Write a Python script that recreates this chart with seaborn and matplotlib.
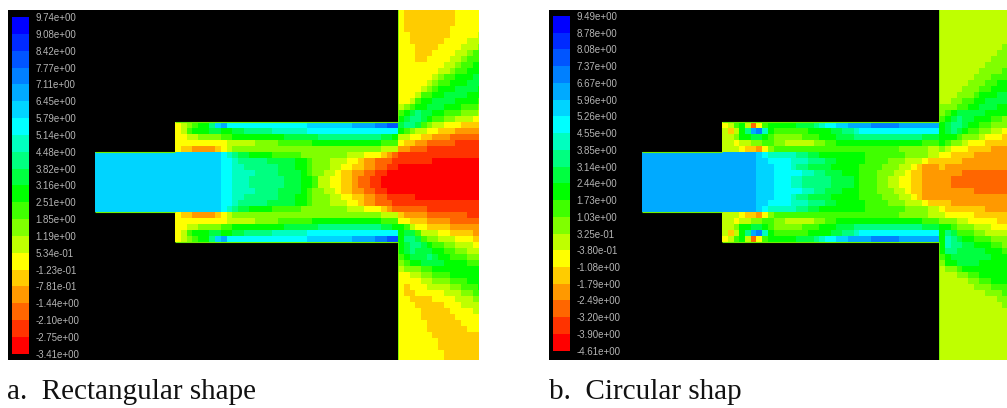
import numpy as np
import matplotlib
matplotlib.use('Agg')
import matplotlib.pyplot as plt
from matplotlib.colors import ListedColormap
import seaborn as sns

# contour level colours, blue (highest) to red (lowest)
level_colors = ['#0000ff', '#002aff', '#0055ff', '#0080ff', '#00aaff', '#00d4ff', '#00ffff',
                '#00ffbf', '#00ff80', '#00ff40', '#00ff00', '#40ff00', '#80ff00', '#bfff00',
                '#ffff00', '#ffcc00', '#ff9900', '#ff6600', '#ff3300', '#ff0000']
level_chars = 'abcdefghijklmnopqrst'

labels_a = ['9.74e+00', '9.08e+00', '8.42e+00', '7.77e+00', '7.11e+00', '6.45e+00', '5.79e+00',
            '5.14e+00', '4.48e+00', '3.82e+00', '3.16e+00', '2.51e+00', '1.85e+00', '1.19e+00',
            '5.34e-01', '-1.23e-01', '-7.81e-01', '-1.44e+00', '-2.10e+00', '-2.75e+00', '-3.41e+00']
labels_b = ['9.49e+00', '8.78e+00', '8.08e+00', '7.37e+00', '6.67e+00', '5.96e+00', '5.26e+00',
            '4.55e+00', '3.85e+00', '3.14e+00', '2.44e+00', '1.73e+00', '1.03e+00', '3.25e-01',
            '-3.80e-01', '-1.08e+00', '-1.79e+00', '-2.49e+00', '-3.20e+00', '-3.90e+00', '-4.61e+00']

caption_a = 'a.  Rectangular shape'
caption_b = 'b.  Circular shap'

# contour levels, one letter per cell, '.' = outside the domain
pipe_a = [
    '..............onmlkkifeggggggggggggggffffffffeeeeddcc',
    '..............onlkkkjjkkjjiiiiihhhhhhgggggggggggggggg',
    '..............oonnmmmmllkkkkkkkkkjjjjjjiiiiiiiiiiijjk',
    '..............ooooooooonnnnnmmmmllllllkkkkkkkkkkkklll',
    '..............oppqqqqponmmmmmmmmmmmmmmmmmmmmmmmmmmnnn',
    'ffffffffffffffffffffffghijjkkkklllllmmmmmmmmnnnooopqr',
    'ffffffffffffffffffffffgghiiiiijjjjjkklmmmnnnoopqqrrrs',
    'ffffffffffffffffffffffgghhiiiiiijjjkklmmmnnooppqqrrss',
    'ffffffffffffffffffffffgghhhhiiiijjjjklmmnnoppqqrrsstt',
    'ffffffffffffffffffffffgghhhiiiiiijjjkklnnooppqrrssttt',
    'ffffffffffffffffffffffgghhhiiiiiijjjkklnnooppqrrssttt',
    'ffffffffffffffffffffffgghhhhiiiijjjjklmmnnoppqqrrsstt',
    'ffffffffffffffffffffffgghhiiiiiijjjkklmmmnnooppqqrrss',
    'ffffffffffffffffffffffgghiiiiijjjjjkklmmmnnnoopqqrrrs',
    'ffffffffffffffffffffffghijjkkkklllllmmmmmmmmnnnooopqr',
    '..............oppqqqqponmmmmmmmmmmmmmmmmmmmmmmmmmmnnn',
    '..............ooooooooonnnnnmmmmllllllkkkkkkkkkkkklll',
    '..............oonnmmmmllkkkkkkkkkjjjjjjiiiiiiiiiiijjk',
    '..............onlkkkjjkkjjiiiiihhhhhhgggggggggggggggg',
    '..............onmlkkifeggggggggggggggffffffffeeeeddcc',
]
outlet_a = [
    'opppppppppooooo', 'opppppppppooooo', 'opppppppppooooo', 'oppppppppoooooo',
    'oopppppppooooon', 'ooppppppoooonnn', 'oooppppoooonnnm', 'ooopppoooonnmll',
    'oooppoooonnmlll', 'oooooooonnmllkk', 'ooooooonnmllkkk', 'oooooonmllkkkjj',
    'ooooonmllkkkjjj', 'oooonmlkkkjjjjk', 'ooonllkkjjjjkkk', 'oonlkkjjjjkkkkl',
    'nmlkkjjjkkklllm', 'lkjijjkklllmmmn', 'kjiijkllmmnnnoo', 'jiijlmnnooopppp',
    'klmnnoopppqqqqq', 'nnooppqqqrrrrrr', 'oppqqrrrrrsssss', 'qqrrrssssssssss',
    'sssssssssssssss', 'ssssssttttttttt', 'ttttttttttttttt', 'ttttttttttttttt',
    'ttttttttttttttt', 'ttttttttttttttt', 'ttttttttttttttt', 'ssstttttttttttt',
    'sssssssssssssss', 'rrrrrssssssssss', 'pqqqqrrrrrrrsss', 'oopppqqqqrrrrrr',
    'klnooppppqqqqqq', 'kjjlnnnooppppqq', 'kiijlmmnnnooopp', 'kjiijkllmmnnnoo',
    'kjijjjkkllmmnnn', 'lkjjjijkklllmmm', 'mlkkjjjjkkkklll', 'nmmmllkkkkkkkkk',
    'oonnmmlllkkkkkk', 'oooonnmmmlllkkk', 'opooonnnnmmlllk', 'oppooooonnnmmll',
    'ooppppoooonnnmm', 'ooopppppooonnnn', 'oooopppppoooonn', 'ooooppppppooooo',
    'oooooppppppoooo', 'ooooopppppppooo', 'ooooooppppppppp', 'ooooooopppppppp',
    'ooooooopppppppp', 'ooooooooppppppp', 'ooooooooppppppp',
]

pipe_b = [
    '..............onlknrolkkkkkjjjihggffeeeedddddeeeeeee',
    '..............npnkiedhkllllllkkkkjjiihgggggggggggggg',
    '..............nnmkkjjklmmmmmlllkkkjjjiiiiiiiiiiiijjj',
    '..............nnonnmmllmmnnnnnmmllkkkkkkkkkkkkkkklll',
    '..............nnnoppqomllllllllllllllllllllllmmmmmnn',
    'eeeeeeeeeeeeeeeeeeeefghhhhhiijjkkkkkkkklllllllmmmmnn',
    'eeeeeeeeeeeeeeeeeeeeffgggghhhiiijjkkkkkllllmmmnnnopp',
    'eeeeeeeeeeeeeeeeeeeefffggghiijjjjkkkkkllllmmmnnopqqq',
    'eeeeeeeeeeeeeeeeeeeefffggggghhiijjjkkklllmmmnnoppqqq',
    'eeeeeeeeeeeeeeeeeeeefffggghhiiiiijjjjklllmmnnooppqqq',
    'eeeeeeeeeeeeeeeeeeeefffggghhiiiiijjjjklllmmnnooppqqq',
    'eeeeeeeeeeeeeeeeeeeefffggggghhiijjjkkklllmmmnnoppqqq',
    'eeeeeeeeeeeeeeeeeeeefffggghiijjjjkkkkkllllmmmnnopqqq',
    'eeeeeeeeeeeeeeeeeeeeffgggghhhiiijjkkkkkllllmmmnnnopp',
    'eeeeeeeeeeeeeeeeeeeefghhhhhiijjkkkkkkkklllllllmmmmnn',
    '..............nnnoppqomllllllllllllllllllllllmmmmmnn',
    '..............nnonnmmllmmnnnnnmmllkkkkkkkkkkkkkkklll',
    '..............nnmkkjjklmmmmmlllkkkjjjiiiiiiiiiiiijjj',
    '..............npnkiedhkllllllkkkkjjiihgggggggggggggg',
    '..............onlknrolkkkkkjjjihggffeeeedddddeeeeeee',
]
outlet_b = [
    'nnnnnnnnnnnn', 'nnnnnnnnnnnn', 'nnnnnnnnnnnn', 'nnnnnnnnnnnn', 'nnnnnnnnnnnn', 'nnnnnnnnnnnn',
    'nnnnnnnnnnnm', 'nnnnnnnnnnmm', 'nnnnnnnnnmmm', 'nnnnnnnnmmmm', 'nnnnnnnmmmml', 'nnnnnnmmmlll',
    'nnnnnmmmllkk', 'nnnnmmmllkkk', 'nnnmmmlkkkjj', 'nnmmllkkjjjj', 'mmmllkkjjjkk', 'mlkjjjjjkkkk',
    'lkjijjkkkllm', 'kjiijkkllmmm', 'kjijkllmmnno', 'kkklmmmnooop', 'klmmnooopppp', 'mnoooppppqqq',
    'ooppppqqqqqq', 'ppppqqqqqqqq', 'pqqqqqqqqqqq', 'qqqqrrrrrrrr', 'qqrrrrrrrrrr', 'qqrrrrrrrrrr',
    'qqqqqqrrrrrr', 'qqqqqqqqqqqq', 'ppqqqqqqqqqq', 'opppppppqqqq', 'nooooopppppp', 'mmmnnooooopp',
    'kklmmmnnnooo', 'kijlllmmnnnn', 'khijkklllmmm', 'khiijjkkkllm', 'kiijjjjjkkkl', 'lkjjjjjjjkkk',
    'mkkjjjjkkkkk', 'nmmlkkkkkkkk', 'nnnmmllkkkkk', 'nnnnnmmllkkk', 'nnnnnnmmmlll', 'nnnnnnnnmmml',
    'nnnnnnnnnnmm', 'nnnnnnnnnnnm', 'nnnnnnnnnnnn', 'nnnnnnnnnnnn', 'nnnnnnnnnnnn', 'nnnnnnnnnnnn',
    'nnnnnnnnnnnn', 'nnnnnnnnnnnn', 'nnnnnnnnnnnn', 'nnnnnnnnnnnn', 'nnnnnnnnnnnn',
]

W, H = 1007, 408
PIPE_FIRST_ROW = 19
JET_FIRST_ROW = 24
JET_LAST_ROW = 34
PIPE_LAST_ROW = 39
PIPE_FIRST_COL = 14
WALL_COLOR = '#70f000'
cmap = ListedColormap(level_colors)


def build_field(pipe, outlet):
    # pipe rows sit left of the outlet rows, everything else stays black
    n_pipe = max(len(r) for r in pipe)
    n_out = max(len(r) for r in outlet)
    field = np.full((len(outlet), n_pipe + n_out), np.nan)
    for i, row in enumerate(outlet):
        for j, ch in enumerate(row):
            field[i, n_pipe + j] = level_chars.index(ch)
    for i, row in enumerate(pipe):
        for j, ch in enumerate(row):
            if ch != '.':
                field[PIPE_FIRST_ROW + i, j] = level_chars.index(ch)
    return field


def pixel_axes(x0, y0, x1, y1):
    return fig.add_axes([x0 / W, 1 - y1 / H, (x1 - x0) / W, (y1 - y0) / H])


def draw_panel(box, xlim, pipe, outlet, legend_box, labels, caption, caption_x):
    ax = pixel_axes(*box)
    ax.set_facecolor('black')
    sns.heatmap(build_field(pipe, outlet), ax=ax, cmap=cmap, vmin=-0.5, vmax=19.5,
                cbar=False, xticklabels=False, yticklabels=False)
    ax.set_xlim(*xlim)
    ax.set_ylim(58.67, 0.33)
    for s in ax.spines.values():
        s.set_visible(False)

    # thin wall lines around the jet and the pipe, the outlet wall stops at the pipe opening
    wall_col = len(pipe[0])
    ax.hlines([PIPE_FIRST_ROW, PIPE_LAST_ROW], PIPE_FIRST_COL, wall_col, color=WALL_COLOR, lw=0.8)
    ax.hlines([JET_FIRST_ROW, JET_LAST_ROW], 0, PIPE_FIRST_COL, color=WALL_COLOR, lw=0.8)
    ax.vlines(wall_col, 0, PIPE_FIRST_ROW, color=WALL_COLOR, lw=0.6)
    ax.vlines(wall_col, PIPE_LAST_ROW, len(outlet), color=WALL_COLOR, lw=0.6)

    # colour key with its labels on the level boundaries
    lax = pixel_axes(*legend_box)
    sns.heatmap(np.arange(20).reshape(-1, 1), ax=lax, cmap=cmap, vmin=-0.5, vmax=19.5,
                cbar=False, xticklabels=False, yticklabels=False)
    lax.yaxis.tick_right()
    lax.set_yticks(np.arange(21))
    lax.set_yticklabels(labels, rotation=0, fontsize=7.0, color='#b4b4b4',
                        family='Liberation Sans')
    lax.tick_params(axis='y', length=0, pad=4.8, right=False)
    for s in lax.spines.values():
        s.set_visible(False)

    fig.text(caption_x / W, 1 - 392 / H, caption, family='Liberation Serif', fontsize=21,
             color='#111111', va='center', ha='left')


fig = plt.figure(figsize=(W / 100, H / 100), dpi=100)

draw_panel((8, 10, 479, 360), (-15.21, 67.13), pipe_a, outlet_a,
           (12, 17, 29, 353.7), labels_a, caption_a, 7)
draw_panel((549, 10, 1007, 360), (-16.26, 63.81), pipe_b, outlet_b,
           (553, 16, 570, 350.7), labels_b, caption_b, 549)

fig.savefig('out.png', dpi=100)
